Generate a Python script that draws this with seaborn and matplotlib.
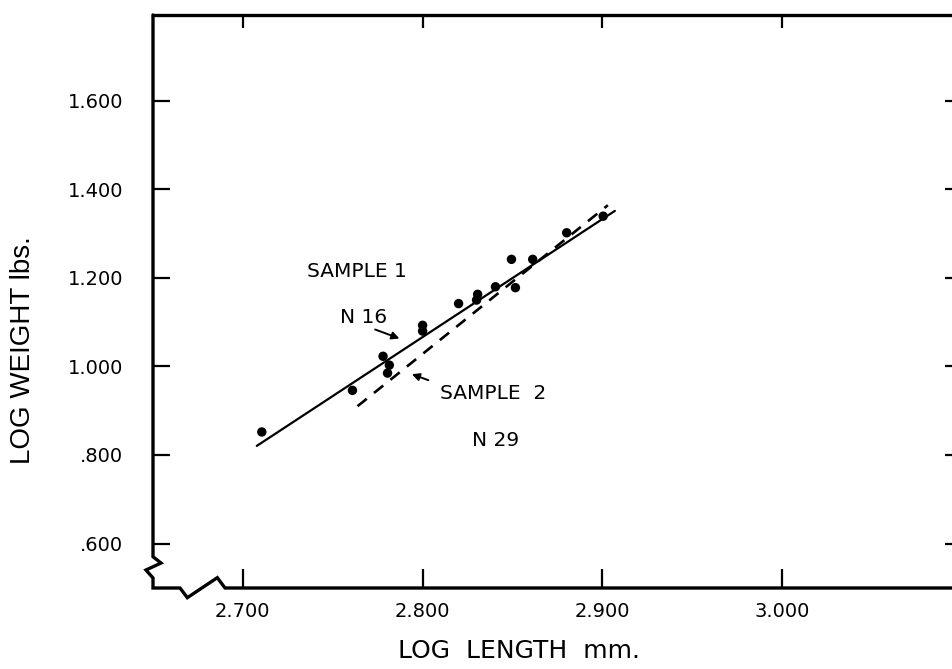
import matplotlib
matplotlib.use("Agg")
import matplotlib.pyplot as plt
from matplotlib.lines import Line2D
import seaborn as sns
import pandas as pd

# ---- data ----
log_length = [2.7106, 2.761, 2.778, 2.7815, 2.7805, 2.800, 2.800, 2.820,
              2.8306, 2.830, 2.8405, 2.8494, 2.8516, 2.8612, 2.8801, 2.9004]
log_weight = [0.852, 0.946, 1.023, 1.003, 0.985, 1.093, 1.080, 1.142,
              1.163, 1.150, 1.180, 1.242, 1.178, 1.242, 1.302, 1.3395]

fit1_x = [2.7078, 2.9069]   # sample 1 regression (solid)
fit1_y = [0.8205, 1.3515]
fit2_x = [2.7638, 2.9030]   # sample 2 regression (dashed)
fit2_y = [0.9102, 1.3643]

x_ticks = [2.7, 2.8, 2.9, 3.0]
x_tick_labels = ["2.700", "2.800", "2.900", "3.000"]
y_ticks = [0.6, 0.8, 1.0, 1.2, 1.4, 1.6]
y_tick_labels = [".600", ".800", "1.000", "1.200", "1.400", "1.600"]

annotations = [("SAMPLE 1", 2.7356, 1.2024), ("N 16", 2.7541, 1.0984),
               ("SAMPLE  2", 2.8097, 0.9276), ("N 29", 2.8275, 0.8198)]
arrows = [((2.7736, 1.0835), (2.7871, 1.0632)),
          ((2.8032, 0.9690), (2.7940, 0.9825))]

sns.set_style("white")
plt.rcParams["font.family"] = ["DejaVu Sans"]
plt.rcParams["text.color"] = "black"
plt.rcParams["axes.labelcolor"] = "black"

W, H = 952, 669
fig = plt.figure(figsize=(W / 100, H / 100), dpi=100)
L, R, B, T = 153, 955, 588, 15
ax = fig.add_axes([L / W, 1 - B / H, (R - L) / W, (B - T) / H])

pts = pd.DataFrame({"x": log_length, "y": log_weight})
sns.scatterplot(data=pts, x="x", y="y", ax=ax, color="black", s=46,
                edgecolor="none", zorder=5)
sns.lineplot(x=fit1_x, y=fit1_y, ax=ax, color="black", lw=1.6)
sns.lineplot(x=fit2_x, y=fit2_y, ax=ax, color="black", lw=1.9,
             dashes=False, linestyle=(0, (4.5, 3.5)))

ax.set_xlim(2.6501, 3.096)
ax.set_ylim(0.4995, 1.794)

ax.set_xticks(x_ticks)
ax.set_xticklabels(x_tick_labels)
ax.set_yticks(y_ticks)
ax.set_yticklabels(y_tick_labels)

ax.tick_params(axis="both", direction="in", width=1.6, colors="black",
               labelsize=14, top=True, right=True, left=True, bottom=True,
               labeltop=False, labelright=False)
ax.tick_params(axis="x", length=13.5, pad=10)
ax.tick_params(axis="y", length=12, pad=21.5)
for t in ax.xaxis.get_major_ticks():
    t.tick2line.set_markersize(9)
for t in ax.yaxis.get_major_ticks():
    t.tick2line.set_markersize(7.5)

for side in ["left", "bottom"]:
    ax.spines[side].set_visible(False)
for side in ["top", "right"]:
    ax.spines[side].set_linewidth(2.4)
    ax.spines[side].set_color("black")

# axis lines with break marks (axes-fraction coordinates)
bx = [0, 0, 0.00998, -0.00873, 0, 0, 0.0337, 0.0428, 0.0802, 0.0898, 1]
by = [1, 0.0546, 0.0436, 0.0314, 0.0175, 0, 0, -0.0169, 0.018, 0, 0]
ax.add_line(Line2D(bx, by, transform=ax.transAxes, color="black", lw=2.4,
                   clip_on=False, solid_joinstyle="miter"))

ax.set_xlabel("LOG  LENGTH  mm.", fontsize=18, color="black")
ax.xaxis.label.set_va("center")
ax.xaxis.set_label_coords((518.5 - L) / (R - L), (B - 651) / (B - T))
ax.set_ylabel("LOG WEIGHT lbs.", fontsize=20, family=["Liberation Sans"],
              color="black")
ax.yaxis.label.set_va("center")
ax.yaxis.set_label_coords((23 - L) / (R - L), (B - 350) / (B - T))

for txt, x, y in annotations:
    ax.text(x, y, txt, fontsize=14.5, ha="left", va="baseline", color="black")
for (x0, y0), (x1, y1) in arrows:
    ax.annotate("", xy=(x1, y1), xytext=(x0, y0),
                arrowprops=dict(arrowstyle="-|>", color="black", lw=1.4,
                                mutation_scale=11, shrinkA=0, shrinkB=0))

fig.savefig("out.png", dpi=100)
